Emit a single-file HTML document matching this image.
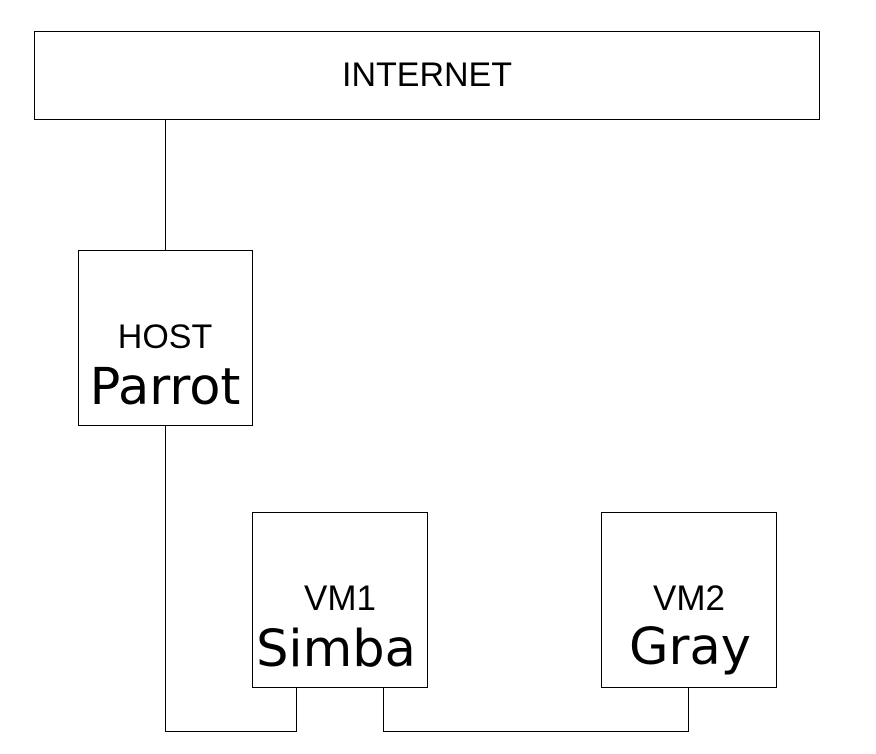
<!DOCTYPE html>
<html><head><meta charset="utf-8"><style>
html,body{margin:0;padding:0;background:#fff;}
svg{display:block;}
</style></head><body>
<svg width="876" height="754" viewBox="0 0 876 754" xmlns="http://www.w3.org/2000/svg">
<g fill="none" stroke="#000" stroke-width="1">
<rect x="34.5" y="31.5" width="785" height="88"/>
<rect x="78.5" y="250.5" width="174" height="175"/>
<rect x="252.5" y="512.5" width="175" height="175"/>
<rect x="601.5" y="512.5" width="175" height="175"/>
<polyline points="165.5,119.5 165.5,250.5"/>
<polyline points="165.5,425.5 165.5,731.5 296.5,731.5 296.5,687.5"/>
<polyline points="383.5,687.5 383.5,731.5 688.5,731.5 688.5,687.5"/>
</g>
<g fill="#000" text-anchor="middle">
<text x="427" y="86" font-family="Liberation Sans, sans-serif" font-size="34">INTERNET</text>
<text x="165" y="348" font-family="Liberation Sans, sans-serif" font-size="34">HOST</text>
<text x="165" y="404" font-family="DejaVu Sans, sans-serif" font-size="51">Parrot</text>
<text x="340" y="610" font-family="Liberation Sans, sans-serif" font-size="35">VM1</text>
<text x="336" y="666" font-family="DejaVu Sans, sans-serif" font-size="51">Simba</text>
<text x="689" y="610" font-family="Liberation Sans, sans-serif" font-size="35">VM2</text>
<text x="690" y="664" font-family="DejaVu Sans, sans-serif" font-size="51">Gray</text>
</g>
</svg>
</body></html>
